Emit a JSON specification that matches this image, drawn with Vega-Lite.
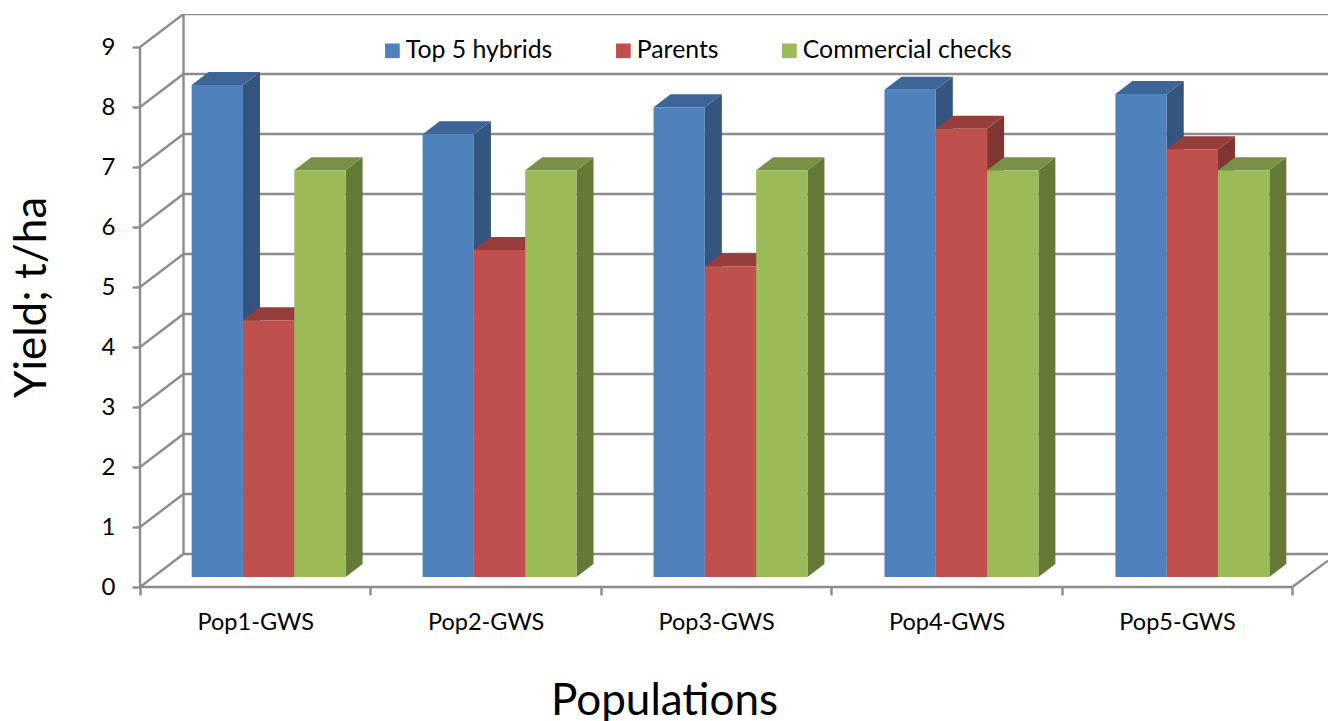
{
  "$schema": "https://vega.github.io/schema/vega-lite/v6.json",
  "autosize": "none",
  "width": 1188,
  "height": 573,
  "padding": {"left": 140, "top": 14, "right": 0, "bottom": 134},
  "background": "white",
  "config": {"font": "Lato", "view": {"stroke": null}},
  "resolve": {"scale": {"color": "independent"}},
  "layer": [
    {
      "data": {"values": [{"k": 0}, {"k": 1}, {"k": 2}, {"k": 3}, {"k": 4}, {"k": 5}, {"k": 6}, {"k": 7}, {"k": 8}, {"k": 9}]},
      "transform": [{"calculate": "[0, 1]", "as": "t"}, {"flatten": ["t"]}, {"calculate": "datum.k + 0.55 * datum.t", "as": "yv"}, {"calculate": "0.1888 * datum.t", "as": "xv"}],
      "mark": {"type": "line", "stroke": "#8c8c8c", "strokeWidth": 2.4, "clip": true},
      "encoding": {
        "x": {
          "field": "xv", "type": "quantitative",
          "scale": {"domain": [0, 5.155], "nice": false, "zero": false},
          "axis": {
            "title": "Populations", "titleFontSize": 44, "titleFontWeight": "normal", "titleColor": "#000", "titleY": 92, "titleX": 524,
            "values": [0, 0.5, 1, 1.5, 2, 2.5, 3, 3.5, 4, 4.5, 5],
            "labelExpr": "datum.value % 1 == 0.5 ? 'Pop' + ceil(datum.value) + '-GWS' : ''",
            "labelFontSize": 23.5, "labelColor": "#000", "labelPadding": 15, "labelOverlap": false, "labelFlush": false,
            "tickColor": "#8c8c8c", "tickWidth": 2.4, "tickSize": 8,
            "tickOpacity": {"condition": {"test": "datum.value % 1 == 0", "value": 1}, "value": 0},
            "domain": false, "grid": false
          }
        },
        "y": {
          "field": "yv", "type": "quantitative",
          "scale": {"domain": [0, 9.55], "nice": false, "zero": false},
          "axis": {
            "title": "Yield; t/ha", "titleFontSize": 44, "titleFontWeight": "normal", "titleColor": "#000", "titleX": -86, "titleY": 283,
            "values": [0, 1, 2, 3, 4, 5, 6, 7, 8, 9], "format": "d",
            "labelFontSize": 24, "labelColor": "#000", "labelPadding": 17,
            "tickColor": "#8c8c8c", "tickWidth": 2.4, "tickSize": 8, "domain": false, "grid": false
          }
        },
        "detail": {"field": "k"}
      }
    },
    {
      "data": {"values": [{"k": 0}, {"k": 1}, {"k": 2}, {"k": 3}, {"k": 4}, {"k": 5}, {"k": 6}, {"k": 7}, {"k": 8}, {"k": 9}]},
      "transform": [{"calculate": "datum.k + 0.55", "as": "yv"}],
      "mark": {"type": "rule", "stroke": "#8c8c8c", "strokeWidth": 2.4, "clip": true},
      "encoding": {
        "x": {"datum": 0.1888, "type": "quantitative"},
        "x2": {"datum": 5.155},
        "y": {"field": "yv", "type": "quantitative"}
      }
    },
    {
      "data": {"values": [{"x0": 0, "x1": 0, "y0": 0, "y1": 9}, {"x0": 0.1888, "x1": 0.1888, "y0": 0.55, "y1": 9.55}, {"x0": 0, "x1": 5, "y0": 0, "y1": 0}]},
      "mark": {"type": "rule", "stroke": "#8c8c8c", "strokeWidth": 2.4},
      "encoding": {
        "x": {"field": "x0", "type": "quantitative"},
        "x2": {"field": "x1"},
        "y": {"field": "y0", "type": "quantitative"},
        "y2": {"field": "y1"}
      }
    },
    {
      "data": {"values": [{"xv": 5, "yv": 0}, {"xv": 5.155, "yv": 0.44}]},
      "mark": {"type": "line", "stroke": "#8c8c8c", "strokeWidth": 2.4},
      "encoding": {
        "x": {"field": "xv", "type": "quantitative"},
        "y": {"field": "yv", "type": "quantitative"}
      }
    },
    {
      "data": {"values": [
        {"pop": 0, "s": 0, "series": "Top 5 hybrids", "value": 8.2},
        {"pop": 1, "s": 0, "series": "Top 5 hybrids", "value": 7.38},
        {"pop": 2, "s": 0, "series": "Top 5 hybrids", "value": 7.83},
        {"pop": 3, "s": 0, "series": "Top 5 hybrids", "value": 8.12},
        {"pop": 4, "s": 0, "series": "Top 5 hybrids", "value": 8.05},
        {"pop": 0, "s": 1, "series": "Parents", "value": 4.28},
        {"pop": 1, "s": 1, "series": "Parents", "value": 5.45},
        {"pop": 2, "s": 1, "series": "Parents", "value": 5.18},
        {"pop": 3, "s": 1, "series": "Parents", "value": 7.47},
        {"pop": 4, "s": 1, "series": "Parents", "value": 7.13},
        {"pop": 0, "s": 2, "series": "Commercial checks", "value": 6.78},
        {"pop": 1, "s": 2, "series": "Commercial checks", "value": 6.78},
        {"pop": 2, "s": 2, "series": "Commercial checks", "value": 6.78},
        {"pop": 3, "s": 2, "series": "Commercial checks", "value": 6.78},
        {"pop": 4, "s": 2, "series": "Commercial checks", "value": 6.78}
      ]},
      "transform": [
        {"calculate": "['side', 'top', 'front']", "as": "face"},
        {"flatten": ["face"]},
        {"calculate": "datum.face == 'top' ? [0, 1, 2, 3] : [0, 1]", "as": "v"},
        {"flatten": ["v"]},
        {"calculate": "datum.pop * 1.0021 + 0.2242 + datum.s * 0.2226", "as": "l"},
        {"calculate": "datum.l + 0.2226", "as": "r"},
        {"calculate": "0.167", "as": "base"},
        {"calculate": "datum.base + datum.value", "as": "top"},
        {"calculate": "datum.face == 'front' ? (datum.v == 0 ? datum.l : datum.r) : datum.face == 'side' ? datum.r + datum.v * 0.0738 : [datum.l, datum.l + 0.0738, datum.r, datum.r + 0.0738][datum.v]", "as": "xp"},
        {"calculate": "datum.face == 'front' ? datum.base : datum.face == 'side' ? datum.base + datum.v * 0.217 : [datum.top, datum.top, datum.top, datum.top + 0.217][datum.v]", "as": "y1p"},
        {"calculate": "datum.face == 'front' ? datum.top : datum.face == 'side' ? datum.top + datum.v * 0.217 : [datum.top, datum.top + 0.217, datum.top + 0.217, datum.top + 0.217][datum.v]", "as": "y2p"},
        {"calculate": "datum.face == 'front' ? datum.series : datum.series + ' ' + datum.face", "as": "shade"},
        {"calculate": "datum.series + datum.pop + datum.face", "as": "poly"}
      ],
      "mark": {"type": "area", "interpolate": "linear", "strokeWidth": 0},
      "encoding": {
        "x": {"field": "xp", "type": "quantitative"},
        "y": {"field": "y1p", "type": "quantitative"},
        "y2": {"field": "y2p"},
        "detail": {"field": "poly"},
        "color": {
          "field": "shade", "type": "nominal",
          "scale": {
            "domain": ["Top 5 hybrids", "Parents", "Commercial checks", "Top 5 hybrids side", "Top 5 hybrids top", "Parents side", "Parents top", "Commercial checks side", "Commercial checks top"],
            "range": ["#4f81bd", "#c0504d", "#9bbb59", "#34557e", "#3e6597", "#803533", "#953e3c", "#667a38", "#789146"]
          },
          "legend": {
            "values": ["Top 5 hybrids", "Parents", "Commercial checks"],
            "orient": "none", "legendX": 240, "legendY": 24, "direction": "horizontal", "columns": 3, "title": null,
            "symbolType": "square", "symbolSize": 216, "symbolStrokeWidth": 0, "labelFontSize": 24.8, "labelColor": "#000", "labelLimit": 400, "columnPadding": 58, "labelOffset": 1
          }
        }
      }
    }
  ]
}
